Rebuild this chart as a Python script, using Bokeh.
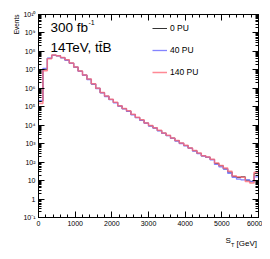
from bokeh.plotting import figure
from bokeh.models import (Range1d, FixedTicker, LinearAxis, LogAxis, CustomJSTickFormatter,
                          Legend, LegendItem, Label, Title)
from bokeh.embed import file_html
from bokeh.resources import INLINE

# ---------------- data ----------------
bin_edges = [i * 120 for i in range(51)]  # S_T bins, 120 GeV wide, 0..6000

pu0 = [2.0e5, 1.07e7, 4.2e7, 6.2e7, 5.8e7, 4.6e7, 3.4e7, 2.3e7, 1.4e7, 8.5e6,
       5.2e6, 3.1e6, 1.7e6, 1.0e6, 5.8e5, 3.7e5, 2.5e5, 1.7e5, 1.1e5, 7.9e4,
       5.8e4, 3.8e4, 2.6e4, 1.9e4, 1.3e4, 9.3e3, 7.1e3, 5.1e3, 3.7e3, 2.75e3,
       2.0e3, 1.45e3, 1.05e3, 790, 575, 415, 300, 220, 185, 140,
       85, 63, 43, 29, 17, 14.5, 16, 10.5, 8.7, 24]
pu40 = [2.2e5, 1.2e7, 4.3e7, 6.1e7, 5.7e7, 4.5e7, 3.3e7, 2.25e7, 1.4e7, 8.3e6,
        5.1e6, 3.0e6, 1.7e6, 9.8e5, 5.6e5, 3.6e5, 2.45e5, 1.65e5, 1.1e5, 7.6e4,
        5.6e4, 3.7e4, 2.55e4, 1.85e4, 1.28e4, 9.0e3, 6.9e3, 5.0e3, 3.6e3, 2.7e3,
        1.95e3, 1.4e3, 1.02e3, 770, 560, 400, 290, 215, 180, 135,
        75, 56, 42, 25, 15, 12, 11, 11, 9, 16]
pu140 = [1.5e5, 9.0e6, 4.0e7, 6.3e7, 5.9e7, 4.7e7, 3.5e7, 2.35e7, 1.45e7, 8.7e6,
         5.3e6, 3.2e6, 1.75e6, 1.02e6, 6.0e5, 3.8e5, 2.55e5, 1.75e5, 1.15e5, 8.1e4,
         6.0e4, 3.9e4, 2.7e4, 1.95e4, 1.33e4, 9.6e3, 7.3e3, 5.3e3, 3.8e3, 2.85e3,
         2.05e3, 1.5e3, 1.08e3, 810, 590, 430, 310, 225, 190, 145,
         90, 66, 48, 32, 18, 16, 15, 9, 7.5, 28]

series_names = ["0 PU", "40 PU", "140 PU"]
series_colors = ["#333333", "#6f6fff", "#ff6b7a"]
x_major = [0, 1000, 2000, 3000, 4000, 5000, 6000]
y_major = [10.0 ** e for e in range(-1, 11)]

# ---------------- figure ----------------
FONT = "Liberation Sans"
p = figure(width=262, height=252, output_backend="svg", toolbar_location=None,
           y_axis_type="log", x_range=Range1d(0, 6000), y_range=Range1d(0.1, 1e10),
           min_border_left=38, min_border_right=4, min_border_top=14, min_border_bottom=27)
p.outline_line_color = "black"
p.outline_line_width = 1
p.grid.visible = False
p.background_fill_color = "white"
p.border_fill_color = "white"

x_minor = [v for v in range(0, 6001, 200) if v % 1000 != 0]
y_minor = [m * 10.0 ** e for e in range(-1, 10) for m in range(2, 10)]

ylab_code = """
const e = Math.round(Math.log10(tick));
const sup = {'-':'\u207b','0':'\u2070','1':'\u00b9','2':'\u00b2','3':'\u00b3','4':'\u2074','5':'\u2075','6':'\u2076','7':'\u2077','8':'\u2078','9':'\u2079'};
if (e == 0) return '1';
if (e == 1) return '10';
return '10' + String(e).split('').map(c => sup[c]).join('');
"""

def style_axis(ax):
    ax.major_tick_in = 6
    ax.major_tick_out = 0
    ax.minor_tick_in = 3
    ax.minor_tick_out = 0
    ax.major_tick_line_color = "black"
    ax.minor_tick_line_color = "black"
    ax.axis_line_color = "black"
    ax.major_label_text_font = FONT
    ax.major_label_text_color = "black"
    ax.major_label_text_font_size = "7px"
    ax.major_label_standoff = 3

xb = p.xaxis[0]
xb.ticker = FixedTicker(ticks=x_major, minor_ticks=x_minor)
style_axis(xb)
yl = p.yaxis[0]
yl.ticker = FixedTicker(ticks=y_major, minor_ticks=y_minor)
yl.formatter = CustomJSTickFormatter(code=ylab_code)
style_axis(yl)

blank = CustomJSTickFormatter(code="return '';")
xt = LinearAxis(ticker=FixedTicker(ticks=x_major, minor_ticks=x_minor), formatter=blank)
style_axis(xt)
xt.major_label_standoff = 0
p.add_layout(xt, "above")
yr = LogAxis(ticker=FixedTicker(ticks=y_major, minor_ticks=y_minor), formatter=blank)
style_axis(yr)
yr.major_label_standoff = 0
p.add_layout(yr, "right")

# ---------------- histograms ----------------
xs = bin_edges
renderers = []
for vals, col, w, a in zip([pu0, pu40, pu140], series_colors, [1.0, 1.3, 1.5], [1.0, 0.85, 0.8]):
    ys = list(vals) + [vals[-1]]
    r = p.step(x=xs, y=ys, mode="after", line_color=col, line_width=w, line_alpha=a)
    renderers.append(r)

legend = Legend(items=[LegendItem(label=n, renderers=[r]) for n, r in zip(series_names, renderers)],
                location=(114, 139), orientation="vertical",
                background_fill_alpha=0, border_line_alpha=0,
                padding=0, margin=0, spacing=10, glyph_width=15, glyph_height=12,
                label_height=12, label_standoff=3,
                label_text_font=FONT, label_text_font_size="8.5px", label_text_color="black")
p.add_layout(legend, "center")

# ---------------- texts ----------------
p.add_layout(Label(x=12, y=190, x_units="screen", y_units="screen", text="300 fb",
                   text_baseline="alphabetic",
                   text_font=FONT, text_font_size="13.5px", text_color="black"))
p.add_layout(Label(x=50, y=195, x_units="screen", y_units="screen", text="-1",
                   text_baseline="alphabetic",
                   text_font=FONT, text_font_size="7px", text_color="black"))
p.add_layout(Label(x=12, y=170, x_units="screen", y_units="screen", text="14TeV, tt\u0304B",
                   text_baseline="alphabetic",
                   text_font=FONT, text_font_size="13.5px", text_color="black"))

# y axis title (top-left, vertical)
p.add_layout(Title(text="Events", align="right", text_font=FONT, text_font_size="6.5px",
                   text_font_style="normal", text_color="black", standoff=2, offset=0), "left")

# x axis title: S_T [GeV] (below the axis, right aligned)
p.add_layout(Label(x=187, y=-3, x_units="screen", y_units="screen", text="S",
                   text_baseline="alphabetic",
                   text_font=FONT, text_font_size="8px", text_color="black"), "below")
p.add_layout(Label(x=192.5, y=-1.5, x_units="screen", y_units="screen", text="T",
                   text_baseline="alphabetic",
                   text_font=FONT, text_font_size="5.5px", text_color="black"), "below")
p.add_layout(Label(x=198, y=9, x_units="screen", y_units="screen", text="[GeV]",
                   text_baseline="alphabetic",
                   text_font=FONT, text_font_size="8px", text_color="black"), "below")

open("out.html", "w").write(file_html(p, INLINE))
